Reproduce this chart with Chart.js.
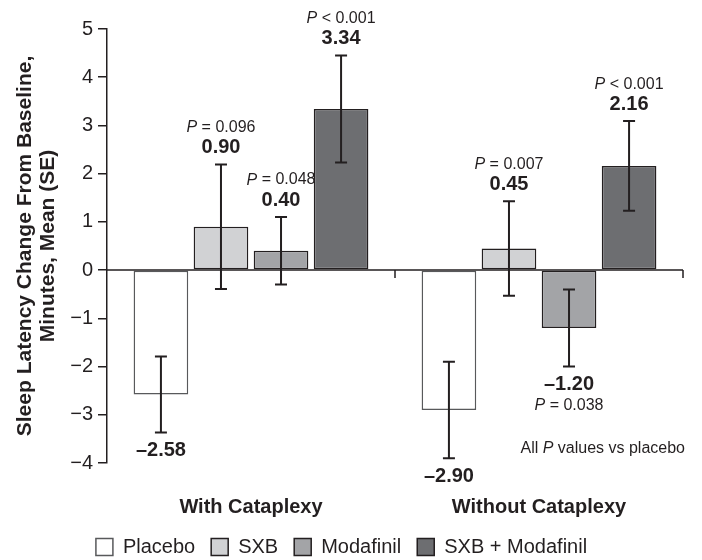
<!DOCTYPE html>
<html>
<head>
<meta charset="utf-8">
<script src="https://cdn.jsdelivr.net/npm/chart.js@4.4.1/dist/chart.umd.min.js"></script>
<style>
  body { margin: 0; background: #fff; }
  #wrap { width: 702px; height: 560px; }
</style>
</head>
<body>
<div id="wrap"><canvas id="chart" width="702" height="560"></canvas></div>
<script>
const categories = ["With Cataplexy", "Without Cataplexy"];
const seriesNames = ["Placebo", "SXB", "Modafinil", "SXB + Modafinil"];

const placebo = [-2.58, -2.90];
const placeboSE = [0.79, 1.00];
const placeboP = [null, null];

const sxb = [0.90, 0.45];
const sxbSE = [1.29, 0.98];
const sxbP = ["= 0.096", "= 0.007"];

const modafinil = [0.40, -1.20];
const modafinilSE = [0.70, 0.80];
const modafinilP = ["= 0.048", "= 0.038"];

const combo = [3.34, 2.16];
const comboSE = [1.11, 0.93];
const comboP = ["< 0.001", "< 0.001"];

const yTicks = [-4, -3, -2, -1, 0, 1, 2, 3, 4, 5];

const ink = "#231f20";
const fontFamily = "'Liberation Sans', Arial, Helvetica, sans-serif";

function fmt(v) {
  return v < 0 ? "\u2013" + Math.abs(v).toFixed(2) : v.toFixed(2);
}

// error bars drawn from each dataset's se values
const errorBars = {
  id: "errorBars",
  afterDatasetsDraw(chart) {
    const ctx = chart.ctx;
    const y = chart.scales.y;
    ctx.save();
    ctx.strokeStyle = ink;
    ctx.lineWidth = 2;
    chart.data.datasets.forEach((ds, i) => {
      chart.getDatasetMeta(i).data.forEach((bar, j) => {
        const v = ds.data[j];
        const top = y.getPixelForValue(v + ds.se[j]);
        const bot = y.getPixelForValue(v - ds.se[j]);
        ctx.beginPath();
        ctx.moveTo(bar.x, top);
        ctx.lineTo(bar.x, bot);
        ctx.moveTo(bar.x - 6, top);
        ctx.lineTo(bar.x + 6, top);
        ctx.moveTo(bar.x - 6, bot);
        ctx.lineTo(bar.x + 6, bot);
        ctx.stroke();
      });
    });
    ctx.restore();
  }
};

// zero line with category separators
const zeroLine = {
  id: "zeroLine",
  afterDatasetsDraw(chart) {
    const ctx = chart.ctx;
    const x = chart.scales.x;
    const y0 = chart.scales.y.getPixelForValue(0);
    const area = chart.chartArea;
    ctx.save();
    ctx.strokeStyle = ink;
    ctx.lineWidth = 1.5;
    ctx.beginPath();
    ctx.moveTo(area.left, y0);
    ctx.lineTo(area.right, y0);
    const step = x.getPixelForValue(1) - x.getPixelForValue(0);
    for (let i = 0; i < categories.length; i++) {
      const px = x.getPixelForValue(i) + step / 2;
      ctx.moveTo(px, y0);
      ctx.lineTo(px, y0 + 8);
    }
    ctx.stroke();
    ctx.restore();
  }
};

function drawP(ctx, text, cx, cy) {
  const italic = "italic 16px " + fontFamily;
  const normal = "16px " + fontFamily;
  ctx.font = italic;
  const wP = ctx.measureText("P").width;
  ctx.font = normal;
  const wRest = ctx.measureText(" " + text).width;
  const start = cx - (wP + wRest) / 2;
  ctx.textAlign = "left";
  ctx.font = italic;
  ctx.fillText("P", start, cy);
  ctx.font = normal;
  ctx.fillText(" " + text, start + wP, cy);
}

const valueLabels = {
  id: "valueLabels",
  afterDatasetsDraw(chart) {
    const ctx = chart.ctx;
    const y = chart.scales.y;
    ctx.save();
    ctx.fillStyle = ink;
    ctx.textBaseline = "middle";
    chart.data.datasets.forEach((ds, i) => {
      chart.getDatasetMeta(i).data.forEach((bar, j) => {
        const v = ds.data[j];
        ctx.font = "bold 20px " + fontFamily;
        ctx.textAlign = "center";
        if (v >= 0) {
          const top = y.getPixelForValue(v + ds.se[j]);
          ctx.fillText(fmt(v), bar.x, top - 17);
          if (ds.p[j]) drawP(ctx, ds.p[j], bar.x, top - 37);
        } else {
          const bot = y.getPixelForValue(v - ds.se[j]);
          ctx.fillText(fmt(v), bar.x, bot + 18);
          if (ds.p[j]) drawP(ctx, ds.p[j], bar.x, bot + 39);
        }
      });
    });
    // footnote
    const area = chart.chartArea;
    const fy = y.getPixelForValue(-3.7);
    const parts = [["All ", false], ["P", true], [" values vs placebo", false]];
    let total = 0;
    parts.forEach(([t, it]) => {
      ctx.font = (it ? "italic " : "") + "16px " + fontFamily;
      total += ctx.measureText(t).width;
    });
    let fx = area.right + 2 - total;
    ctx.textAlign = "left";
    parts.forEach(([t, it]) => {
      ctx.font = (it ? "italic " : "") + "16px " + fontFamily;
      ctx.fillText(t, fx, fy);
      fx += ctx.measureText(t).width;
    });
    ctx.restore();
  }
};

function makeSet(label, data, se, p, fill, border) {
  return {
    label: label,
    data: data,
    se: se,
    p: p,
    backgroundColor: fill,
    borderColor: border,
    borderWidth: 1.5,
    borderSkipped: false,
    categoryPercentage: 0.834,
    barPercentage: 0.91
  };
}

new Chart(document.getElementById("chart").getContext("2d"), {
  type: "bar",
  data: {
    labels: categories,
    datasets: [
      makeSet(seriesNames[0], placebo, placeboSE, placeboP, "#ffffff", "#58595b"),
      makeSet(seriesNames[1], sxb, sxbSE, sxbP, "#d1d2d4", ink),
      makeSet(seriesNames[2], modafinil, modafinilSE, modafinilP, "#a3a4a7", ink),
      makeSet(seriesNames[3], combo, comboSE, comboP, "#6d6e71", ink)
    ]
  },
  options: {
    responsive: false,
    animation: false,
    layout: { padding: { left: 0, right: 19, top: 29, bottom: -7 } },
    plugins: {
      legend: {
        position: "bottom",
        labels: {
          color: ink,
          font: { family: fontFamily, size: 20 },
          boxWidth: 17,
          boxHeight: 17,
          padding: 16
        }
      },
      tooltip: { enabled: false }
    },
    scales: {
      x: {
        afterFit(scale) { scale.height = 58; },
        grid: { display: false },
        border: { display: false },
        ticks: {
          color: ink,
          padding: 24,
          font: { family: fontFamily, size: 20, weight: "bold" }
        }
      },
      y: {
        min: -4,
        max: 5,
        afterFit(scale) { scale.width = 107; },
        afterBuildTicks(scale) { scale.ticks = yTicks.map(v => ({ value: v })); },
        border: { display: true, color: ink, width: 1.5 },
        grid: {
          drawOnChartArea: false,
          drawTicks: true,
          tickLength: 9,
          color: ink,
          lineWidth: 1.5
        },
        ticks: {
          color: ink,
          padding: 5,
          font: { family: fontFamily, size: 20 },
          callback: v => (v < 0 ? "\u2212" + Math.abs(v) : String(v))
        },
        title: {
          display: true,
          text: ["Sleep Latency Change From Baseline,", "Minutes, Mean (SE)"],
          color: ink,
          font: { family: fontFamily, size: 21, weight: "bold", lineHeight: 1.1 },
          padding: { top: 14, bottom: 0 }
        }
      }
    }
  },
  plugins: [errorBars, zeroLine, valueLabels]
});
</script>
</body>
</html>
